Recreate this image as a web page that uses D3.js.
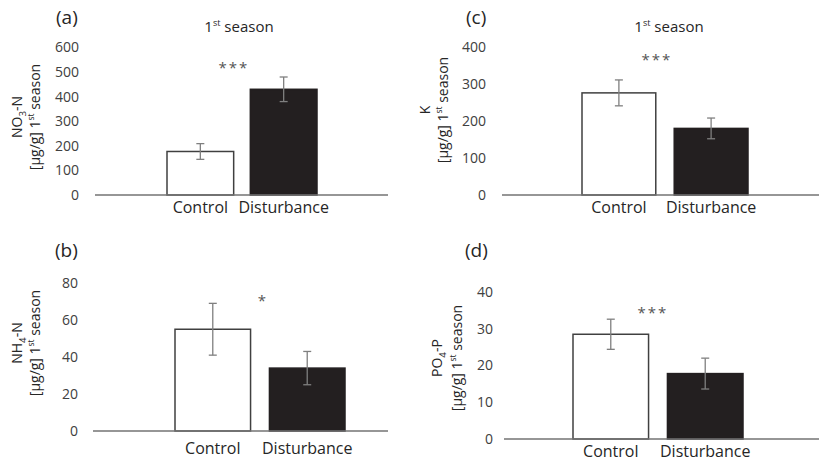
<!DOCTYPE html>
<html>
<head>
<meta charset="utf-8">
<script src="https://cdn.jsdelivr.net/npm/d3@7"></script>
<style>
  html, body { margin: 0; padding: 0; background: #fff; }
  svg { display: block; font-family: "Open Sans", sans-serif; }
</style>
</head>
<body>
<svg id="chart" width="819" height="462"></svg>
<script>
// categories and values (means and error half-widths)
const categories = ['Control', 'Disturbance'];

const no3Mean = [177, 430];
const no3Err = [32, 50];
const no3Ticks = [0, 100, 200, 300, 400, 500, 600];

const nh4Mean = [55, 34];
const nh4Err = [14, 9];
const nh4Ticks = [0, 20, 40, 60, 80];

const kMean = [276, 180];
const kErr = [35, 28];
const kTicks = [0, 100, 200, 300, 400];

const po4Mean = [28.5, 17.8];
const po4Err = [4.1, 4.2];
const po4Ticks = [0, 10, 20, 30, 40];

const panelTags = ['(a)', '(b)', '(c)', '(d)'];
const sigMarks = ['***', '*', '***', '***'];
const sigValues = [527, 72, 373, 35];

const svg = d3.select('#chart');

// layout of the four panels (pixel positions only)
const panels = [
    { tag: panelTags[0], mean: no3Mean, err: no3Err, ticks: no3Ticks, sig: sigMarks[0], sigY: sigValues[0],
      axisX: [95, 388], y0: 195, yTop: 47.5, bars: [167, 317], tickRight: 79, catPad: 7,
      tagX: 56, tagY: 24, title: true, titleX: 239,
      label: [{t: 'NO'}, {t: '3', sub: true}, {t: '-N'}], labelX: [17, 35], labelY: 117,
      sigX: 234 },
    { tag: panelTags[1], mean: nh4Mean, err: nh4Err, ticks: nh4Ticks, sig: sigMarks[1], sigY: sigValues[1],
      axisX: [93, 388], y0: 431, yTop: 283, bars: [175, 345], tickRight: 78, catPad: 12,
      tagX: 55, tagY: 257, title: false,
      label: [{t: 'NH'}, {t: '4', sub: true}, {t: '-N'}], labelX: [17, 35], labelY: 343,
      sigX: 263 },
    { tag: panelTags[2], mean: kMean, err: kErr, ticks: kTicks, sig: sigMarks[2], sigY: sigValues[2],
      axisX: [502, 830], y0: 195, yTop: 47, bars: [582, 748], tickRight: 486, catPad: 7,
      tagX: 466, tagY: 24, title: true, titleX: 669,
      label: [{t: 'K'}], labelX: [425, 443], labelY: 110,
      sigX: 657 },
    { tag: panelTags[3], mean: po4Mean, err: po4Err, ticks: po4Ticks, sig: sigMarks[3], sigY: sigValues[3],
      axisX: [504, 830], y0: 439, yTop: 292, bars: [573, 743], tickRight: 493, catPad: 7,
      tagX: 465, tagY: 257, title: false,
      label: [{t: 'PO'}, {t: '4', sub: true}, {t: '-P'}], labelX: [437, 457], labelY: 358,
      sigX: 653 }
];

const unitLine = [{t: '[µg/g] 1'}, {t: 'st', sup: true}, {t: ' season'}];

// text with sub/superscript pieces; the shift is undone on the next piece
function richText(sel, parts, size) {
    let back = 0;
    parts.forEach(p => {
        const ts = sel.append('tspan').text(p.t);
        let shift = 0;
        if (p.sub) { shift = size * 0.25; ts.attr('font-size', size * 0.7); }
        if (p.sup) { shift = -size * 0.4; ts.attr('font-size', size * 0.6); }
        const dy = back + shift;
        if (dy !== 0) ts.attr('dy', dy);
        back = -shift;
    });
}

panels.forEach(p => {
    const g = svg.append('g');
    const maxV = p.ticks[p.ticks.length - 1];

    const yscale = d3.scaleLinear().domain([0, maxV]).range([p.y0, p.yTop]);
    const xscale = d3.scaleBand().domain(categories).range(p.bars).paddingInner(0.2).paddingOuter(0);

    // y tick labels only
    const yaxis = d3.axisLeft(yscale).tickValues(p.ticks).tickSize(0).tickPadding(0);
    const yg = g.append('g').attr('transform', `translate(${p.tickRight},0)`).call(yaxis);
    yg.select('.domain').remove();
    yg.selectAll('text').attr('font-size', 14).attr('fill', '#404040').attr('font-family', '"Open Sans", sans-serif');

    // bars
    const data = categories.map((c, i) => ({ cat: c, mean: p.mean[i], err: p.err[i], i: i }));
    g.selectAll('rect.bar')
        .data(data)
        .join('rect')
        .attr('class', 'bar')
        .attr('x', d => xscale(d.cat))
        .attr('y', d => yscale(d.mean))
        .attr('width', xscale.bandwidth())
        .attr('height', d => yscale(0) - yscale(d.mean))
        .attr('fill', d => d.i === 0 ? '#ffffff' : '#231f20')
        .attr('stroke', d => d.i === 0 ? '#404040' : '#231f20')
        .attr('stroke-width', 1.5);

    // baseline
    g.append('line')
        .attr('x1', p.axisX[0]).attr('x2', p.axisX[1])
        .attr('y1', yscale(0)).attr('y2', yscale(0))
        .attr('stroke', '#737373').attr('stroke-width', 1.5);

    // error bars
    const eb = g.selectAll('g.err').data(data).join('g').attr('class', 'err')
        .attr('stroke', '#7f7f7f').attr('stroke-width', 1.3);
    const cx = d => xscale(d.cat) + xscale.bandwidth() / 2;
    eb.append('line')
        .attr('x1', cx).attr('x2', cx)
        .attr('y1', d => yscale(d.mean + d.err)).attr('y2', d => yscale(d.mean - d.err));
    eb.append('line')
        .attr('x1', d => cx(d) - 4).attr('x2', d => cx(d) + 4)
        .attr('y1', d => yscale(d.mean + d.err)).attr('y2', d => yscale(d.mean + d.err));
    eb.append('line')
        .attr('x1', d => cx(d) - 4).attr('x2', d => cx(d) + 4)
        .attr('y1', d => yscale(d.mean - d.err)).attr('y2', d => yscale(d.mean - d.err));

    // category labels
    const xaxis = d3.axisBottom(xscale).tickSize(0).tickPadding(p.catPad);
    const xg = g.append('g').attr('transform', `translate(0,${yscale(0)})`).call(xaxis);
    xg.select('.domain').remove();
    xg.selectAll('text').attr('font-size', 16).attr('fill', '#262626').attr('font-family', '"Open Sans", sans-serif');

    // significance marks
    g.append('text')
        .attr('x', p.sigX)
        .attr('y', yscale(p.sigY) + 8)
        .attr('text-anchor', 'middle')
        .attr('font-size', 15)
        .attr('letter-spacing', 2)
        .attr('fill', '#555')
        .text(p.sig);

    // panel tag
    g.append('text')
        .attr('x', p.tagX).attr('y', p.tagY)
        .attr('font-size', 19).attr('fill', '#262626')
        .text(p.tag);

    // title
    if (p.title) {
        const t = g.append('text')
            .attr('x', p.titleX).attr('y', 32)
            .attr('text-anchor', 'middle')
            .attr('font-size', 15).attr('fill', '#262626');
        richText(t, [{t: '1'}, {t: 'st', sup: true}, {t: ' season'}], 15);
    }

    // y label, two rotated lines
    const l1 = g.append('text')
        .attr('transform', `translate(${p.labelX[0] + 5},${p.labelY}) rotate(-90)`)
        .attr('text-anchor', 'middle')
        .attr('font-size', 14).attr('fill', '#262626');
    richText(l1, p.label, 14);
    const l2 = g.append('text')
        .attr('transform', `translate(${p.labelX[1] + 5},${p.labelY}) rotate(-90)`)
        .attr('text-anchor', 'middle')
        .attr('font-size', 14).attr('fill', '#262626');
    richText(l2, unitLine, 14);
});
</script>
</body>
</html>
